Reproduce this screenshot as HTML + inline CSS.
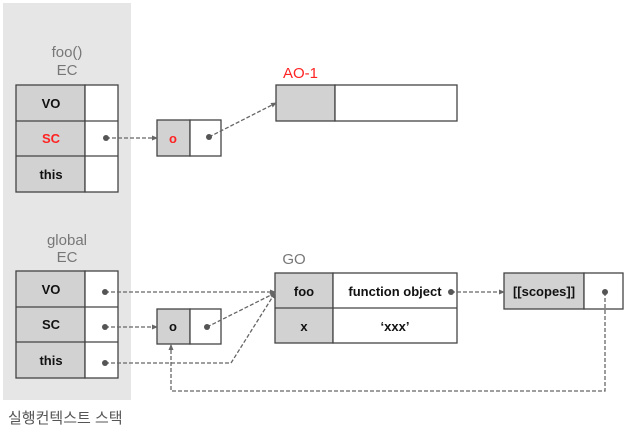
<!DOCTYPE html>
<html><head><meta charset="utf-8"><style>
html,body{margin:0;padding:0;background:#fff;}
svg{display:block;}
text{font-family:"Liberation Sans","Noto Sans CJK KR",sans-serif;}
</style></head><body>
<svg width="629" height="430" viewBox="0 0 629 430" xmlns="http://www.w3.org/2000/svg">
<defs>
<marker id="a" markerWidth="6" markerHeight="6" refX="5" refY="3" orient="auto" markerUnits="userSpaceOnUse"><path d="M0,0.5 L6,3 L0,5.5 z" fill="#666"/></marker>
</defs>
<rect x="3" y="3" width="128" height="397" fill="#e6e6e6"/>
<g font-size="15" fill="#777" text-anchor="middle">
<text x="67" y="57">foo()</text><text x="67" y="75">EC</text>
<text x="67" y="245">global</text><text x="67" y="262">EC</text>
<text x="294" y="264">GO</text>
</g>
<text x="283" y="78" font-size="15" fill="#f22">AO-1</text>
<g stroke="#444" stroke-width="1.3">
<!-- top table -->
<rect x="16" y="85" width="69" height="107" fill="#d3d2d2"/>
<rect x="85" y="85" width="33" height="107" fill="#fff"/>
<line x1="16" y1="121" x2="118" y2="121"/><line x1="16" y1="156" x2="118" y2="156"/>
<!-- bottom table -->
<rect x="16" y="271" width="69" height="107" fill="#d3d2d2"/>
<rect x="85" y="271" width="33" height="107" fill="#fff"/>
<line x1="16" y1="307" x2="118" y2="307"/><line x1="16" y1="342" x2="118" y2="342"/>
<!-- o boxes -->
<rect x="157" y="120" width="33" height="36" fill="#d3d2d2"/><rect x="190" y="120" width="31" height="36" fill="#fff"/>
<rect x="157" y="309" width="33" height="35" fill="#d3d2d2"/><rect x="190" y="309" width="31" height="35" fill="#fff"/>
<!-- AO-1 -->
<rect x="276" y="85" width="59" height="36" fill="#d3d2d2"/><rect x="335" y="85" width="122" height="36" fill="#fff"/>
<!-- GO -->
<rect x="275" y="273" width="58" height="70" fill="#d3d2d2"/><rect x="333" y="273" width="124" height="70" fill="#fff"/>
<line x1="275" y1="308" x2="457" y2="308"/>
<!-- scopes -->
<rect x="504" y="273" width="80" height="36" fill="#d3d2d2"/><rect x="584" y="273" width="39" height="36" fill="#fff"/>
</g>
<g font-size="13" font-weight="bold" text-anchor="middle" fill="#111">
<text x="51" y="108">VO</text><text x="51" y="143" fill="#f22">SC</text><text x="51" y="179">this</text>
<text x="51" y="294">VO</text><text x="51" y="329">SC</text><text x="51" y="365">this</text>
<text x="173" y="143" fill="#f22">o</text><text x="173" y="331">o</text>
<text x="304" y="296">foo</text><text x="304" y="331">x</text>
<text x="395" y="296">function object</text><text x="395" y="331">‘xxx’</text>
<text x="544" y="296">[[scopes]]</text>
</g>
<g stroke="#666" stroke-width="1.3" stroke-dasharray="4,2" fill="none" marker-end="url(#a)">
<path d="M106,138 L157,138"/>
<path d="M209,137 L276,103"/>
<path d="M105,292 L275,292"/>
<path d="M105,327 L157,327"/>
<path d="M207,327 L275,293"/>
<path d="M105,363 L231,363 L275,293"/>
<path d="M451,292 L504,292"/>
<path d="M605,292 L605,391 L171,391 L171,345"/>
</g>
<g fill="#555">
<circle cx="106" cy="138" r="3"/><circle cx="209" cy="137" r="3"/>
<circle cx="105" cy="292" r="3"/><circle cx="105" cy="327" r="3"/><circle cx="207" cy="327" r="3"/>
<circle cx="105" cy="363" r="3"/><circle cx="451" cy="292" r="3"/><circle cx="605" cy="292" r="3"/>
</g>
<text x="8" y="423" font-size="15" fill="#555">실행컨텍스트 스택</text>
</svg>
</body></html>
